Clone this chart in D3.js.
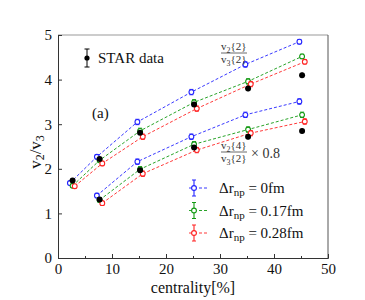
<!DOCTYPE html>
<html>
<head>
<meta charset="utf-8">
<script src="https://cdn.jsdelivr.net/npm/d3@7"></script>
<style>
  body { margin: 0; background: #fff; }
  text { font-family: "Liberation Serif", "Times New Roman", serif; fill: #111; }
</style>
</head>
<body>
<script>
// centrality positions (each model slightly shifted, as in the figure)
var centBlue  = [2.2, 7.2, 14.7, 24.7, 34.7, 44.7];
var centGreen = [2.7, 7.7, 15.2, 25.2, 35.2, 45.2];
var centRed   = [3.1, 8.2, 15.7, 25.7, 35.7, 45.7];

// v2{2}/v3{2}
var blue2  = [1.68, 2.27, 3.05, 3.72, 4.34, 4.85];
var green2 = [1.62, 2.19, 2.85, 3.49, 3.96, 4.52];
var red2   = [1.61, 2.12, 2.72, 3.35, 3.90, 4.40];
var err2   = [0.04, 0.05, 0.06, 0.06, 0.06, 0.05];

// v2{4}/v3{2} x 0.8 (starts at second bin)
var blue4  = [1.40, 2.16, 2.72, 3.21, 3.51];
var green4 = [1.30, 1.99, 2.55, 2.88, 3.21];
var red4   = [1.23, 1.89, 2.42, 2.80, 3.06];
var err4   = [0.05, 0.06, 0.06, 0.06, 0.06];

// STAR data
var starX2 = [2.7, 7.7, 15.2, 25.2, 35.2, 45.2];
var star2  = [1.74, 2.22, 2.81, 3.44, 3.80, 4.10];
var starX4 = [7.7, 15.2, 25.2, 35.2, 45.2];
var star4  = [1.31, 1.97, 2.48, 2.72, 2.85];
var starErr = [0.04, 0.04, 0.05, 0.05, 0.06, 0.06];

var xTicks = [0, 10, 20, 30, 40, 50];
var xMinor = [5, 15, 25, 35, 45];
var yTicks = [0, 1, 2, 3, 4, 5];

var legendLabels = ["0fm", "0.17fm", "0.28fm"];
var colors = ["#2222ff", "#119911", "#ff2222"];

var W = 365, H = 300;
var margin = {top: 35, right: 37, bottom: 42, left: 58};
var width = W - margin.left - margin.right;
var height = H - margin.top - margin.bottom;

var svg = d3.select("body").append("svg")
  .attr("width", W)
  .attr("height", H);

var g = svg.append("g")
  .attr("transform", `translate(${margin.left}, ${margin.top})`);

var x = d3.scaleLinear().domain([0, 50]).range([0, width]);
var y = d3.scaleLinear().domain([0, 5]).range([height, 0]);

// frame
g.append("line").attr("x1", 0).attr("x2", width).attr("y1", 0).attr("y2", 0)
  .attr("stroke", "#999").attr("stroke-width", 1.2);
g.append("line").attr("x1", width).attr("x2", width).attr("y1", 0).attr("y2", height)
  .attr("stroke", "#555").attr("stroke-width", 1);

// axes with inward ticks
var xAxis = g.append("g")
  .attr("transform", `translate(0, ${height})`)
  .call(d3.axisBottom(x).tickValues(xTicks).tickSize(-4).tickPadding(5).tickFormat(d3.format("d")));
g.append("g")
  .attr("transform", `translate(0, ${height})`)
  .call(d3.axisBottom(x).tickValues(xMinor).tickSize(-2).tickFormat(""))
  .select(".domain").remove();
var yAxis = g.append("g")
  .call(d3.axisLeft(y).tickValues(yTicks).tickSize(-4).tickPadding(6).tickFormat(d3.format("d")));

[xAxis, yAxis].forEach(function(a) {
  a.select(".domain").attr("stroke", "#333");
  a.selectAll(".tick text").style("font-size", "15px").attr("fill", "#111")
    .style("font-family", "'Liberation Serif', serif");
});
g.selectAll(".tick line").attr("stroke", "#333");

// series
function drawSeries(xs, ys, errs, color) {
  var pts = ys.map(function(v, i) { return {x: xs[i], y: v, e: errs[i]}; });
  var line = d3.line().x(d => x(d.x)).y(d => y(d.y));
  g.append("path").datum(pts)
    .attr("d", line)
    .attr("fill", "none")
    .attr("stroke", color)
    .attr("stroke-width", 0.9)
    .attr("stroke-dasharray", "3,2");
  var grp = g.append("g");
  grp.selectAll(".eb").data(pts).enter().append("line")
    .attr("x1", d => x(d.x)).attr("x2", d => x(d.x))
    .attr("y1", d => y(d.y - d.e)).attr("y2", d => y(d.y + d.e))
    .attr("stroke", color).attr("stroke-width", 1);
  grp.selectAll(".cap").data(pts.flatMap(d => [d.y - d.e, d.y + d.e].map(v => ({x: d.x, y: v}))))
    .enter().append("line")
    .attr("x1", d => x(d.x) - 2).attr("x2", d => x(d.x) + 2)
    .attr("y1", d => y(d.y)).attr("y2", d => y(d.y))
    .attr("stroke", color).attr("stroke-width", 1);
  grp.selectAll("circle").data(pts).enter().append("circle")
    .attr("cx", d => x(d.x)).attr("cy", d => y(d.y))
    .attr("r", 2.4)
    .attr("fill", "#fff")
    .attr("stroke", color)
    .attr("stroke-width", 1.1);
}

var cents = [centBlue, centGreen, centRed];
var upper = [blue2, green2, red2];
var lower = [blue4, green4, red4];
for (var k = 0; k < 3; k++) {
  drawSeries(cents[k], upper[k], err2, colors[k]);
  drawSeries(cents[k].slice(1), lower[k], err4, colors[k]);
}

// STAR data points
function drawStar(xs, ys, errs) {
  var pts = ys.map(function(v, i) { return {x: xs[i], y: v, e: errs[i]}; });
  g.append("g").selectAll("line").data(pts).enter().append("line")
    .attr("x1", d => x(d.x)).attr("x2", d => x(d.x))
    .attr("y1", d => y(d.y - d.e)).attr("y2", d => y(d.y + d.e))
    .attr("stroke", "#000").attr("stroke-width", 1);
  g.append("g").selectAll("circle").data(pts).enter().append("circle")
    .attr("cx", d => x(d.x)).attr("cy", d => y(d.y))
    .attr("r", 3)
    .attr("fill", "#000");
}
drawStar(starX2, star2, starErr);
drawStar(starX4, star4, starErr.slice(1));

// STAR legend
var sl = svg.append("g").attr("transform", "translate(87, 58)");
sl.append("line").attr("x1", 0).attr("x2", 0).attr("y1", -9).attr("y2", 9).attr("stroke", "#000");
sl.append("line").attr("x1", -2.5).attr("x2", 2.5).attr("y1", -9).attr("y2", -9).attr("stroke", "#000");
sl.append("line").attr("x1", -2.5).attr("x2", 2.5).attr("y1", 9).attr("y2", 9).attr("stroke", "#000");
sl.append("circle").attr("r", 2.6).attr("fill", "#000");
sl.append("text").attr("x", 11).attr("y", 5).style("font-size", "15px").text("STAR data");

// (a)
svg.append("text").attr("x", 92).attr("y", 118).style("font-size", "15px").text("(a)");

// fraction annotations
function fraction(x0, yLine, num, den, fs) {
  var fg = svg.append("g");
  function write(yy, parts) {
    var t = fg.append("text").attr("x", x0).attr("y", yy).style("font-size", fs + "px").style("fill", "#333");
    t.append("tspan").text("v");
    t.append("tspan").attr("dy", 2.5).style("font-size", (fs * 0.72) + "px").text(parts[0]);
    t.append("tspan").attr("dy", -2.5).text(parts[1]);
    return t;
  }
  write(yLine - 3, num);
  write(yLine + 10, den);
  fg.append("line").attr("x1", x0).attr("x2", x0 + 26).attr("y1", yLine).attr("y2", yLine)
    .attr("stroke", "#444").attr("stroke-width", 0.8);
}
fraction(221, 53, ["2", "{2}"], ["3", "{2}"], 11);
fraction(221, 152, ["2", "{4}"], ["3", "{2}"], 11);
svg.append("text").attr("x", 251).attr("y", 158).style("font-size", "14px").style("fill", "#333").text("\u00d7 0.8");

// model legend
var lg = svg.append("g");
legendLabels.forEach(function(lab, i) {
  var yy = 188 + i * 22.5;
  var c = colors[i];
  lg.append("line").attr("x1", 189).attr("x2", 208).attr("y1", yy).attr("y2", yy)
    .attr("stroke", c).attr("stroke-width", 0.9).attr("stroke-dasharray", "3,2");
  lg.append("line").attr("x1", 194).attr("x2", 194).attr("y1", yy - 8).attr("y2", yy + 8)
    .attr("stroke", c).attr("stroke-width", 1.1);
  lg.append("line").attr("x1", 192).attr("x2", 196).attr("y1", yy - 8).attr("y2", yy - 8).attr("stroke", c);
  lg.append("line").attr("x1", 192).attr("x2", 196).attr("y1", yy + 8).attr("y2", yy + 8).attr("stroke", c);
  lg.append("circle").attr("cx", 194).attr("cy", yy).attr("r", 2.4)
    .attr("fill", "#fff").attr("stroke", c).attr("stroke-width", 1.1);
  var t = lg.append("text").attr("x", 219).attr("y", yy + 5).style("font-size", "15px");
  t.append("tspan").text("\u0394r");
  t.append("tspan").attr("dy", 3).style("font-size", "11px").text("np");
  t.append("tspan").attr("dy", -3).text(" = " + lab);
});

// axis titles
svg.append("text")
  .attr("x", 193).attr("y", 293)
  .attr("text-anchor", "middle")
  .style("font-size", "16px")
  .text("centrality[%]");

var yl = svg.append("text")
  .attr("transform", "translate(41, 152) rotate(-90)")
  .attr("text-anchor", "middle")
  .style("font-size", "17px");
yl.append("tspan").text("v");
yl.append("tspan").attr("dy", 3).style("font-size", "12px").text("2");
yl.append("tspan").attr("dy", -3).text("/v");
yl.append("tspan").attr("dy", 3).style("font-size", "12px").text("3");
</script>
</body>
</html>
